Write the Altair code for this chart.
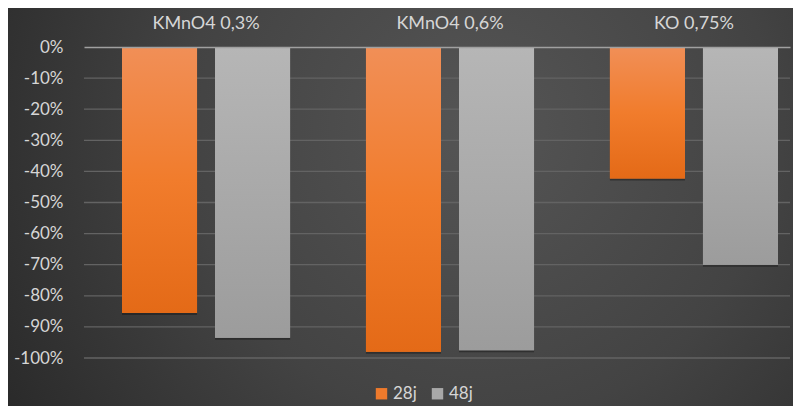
import altair as alt
import pandas as pd

categories = ["KMnO4 0,3%", "KMnO4 0,6%", "KO 0,75%"]
series = ["28j", "48j"]
values_28j = [-0.855, -0.98, -0.423]
values_48j = [-0.935, -0.975, -0.70]
y_ticks = [0, -0.1, -0.2, -0.3, -0.4, -0.5, -0.6, -0.7, -0.8, -0.9, -1.0]

rows = []
for c, a, b in zip(categories, values_28j, values_48j):
    rows.append({"cat": c, "serie": "28j", "val": a})
    rows.append({"cat": c, "serie": "48j", "val": b})
df = pd.DataFrame(rows)
grid_df = pd.DataFrame({"val": y_ticks[1:]})

W, H = 706, 311
FONT = "Lato"
TXT = "#d6d6d6"

x_enc = alt.X("cat:N", sort=categories,
              scale=alt.Scale(paddingInner=0.311, paddingOuter=0.1025, align=0.76),
              axis=alt.Axis(orient="top", title=None, ticks=False, labelAngle=0,
                            labelPadding=15, labelFontSize=18, labelColor=TXT,
                            labelFont=FONT, domainColor="#a0a0a0", domainWidth=1.3,
                            grid=False, zindex=1))
xo_enc = alt.XOffset("serie:N", sort=series,
                     scale=alt.Scale(paddingInner=0.1935, paddingOuter=0))
y_scale = alt.Scale(domain=[-1.0, 0], nice=False)
y_enc = alt.Y("val:Q", scale=y_scale,
              axis=alt.Axis(values=y_ticks, title=None, ticks=False, domain=False,
                            labelExpr="round(datum.value*100) + '%'",
                            labelPadding=21, labelFontSize=17, labelColor=TXT,
                            labelFont=FONT, grid=False, zindex=1))

bg = alt.Chart(pd.DataFrame({"k": [0]})).mark_rect(
    fill=alt.Gradient(gradient="radial", x1=0.6, y1=0.4, r1=0.0,
                      x2=0.6, y2=0.4, r2=0.75,
                      stops=[alt.GradientStop(color="#555555", offset=0),
                             alt.GradientStop(color="#434343", offset=0.5),
                             alt.GradientStop(color="#262626", offset=1)])
).encode(x=alt.value(-76), x2=alt.value(W + 3), y=alt.value(-39), y2=alt.value(H + 48))

grid = alt.Chart(grid_df).mark_rule(color="#636363", strokeWidth=1.3).encode(y=y_enc)

shadow = alt.Chart(df).mark_bar(color="#151515", opacity=0.45, xOffset=2, yOffset=2).encode(
    x=x_enc, xOffset=xo_enc, y=y_enc)

base = alt.Chart(df).mark_bar().encode(
    x=x_enc, xOffset=xo_enc, y=y_enc,
    color=alt.Color("serie:N", sort=series,
                    scale=alt.Scale(domain=series, range=["#EE7A2C", "#A8A8A8"]),
                    legend=alt.Legend(orient="none", legendX=289, legendY=H + 27,
                                      title=None, direction="horizontal",
                                      symbolType="square", symbolSize=130,
                                      symbolStrokeWidth=0, labelFontSize=17,
                                      labelColor=TXT, labelFont=FONT,
                                      columnPadding=12, labelOffset=3)))

grad_or = alt.Gradient(gradient="linear", x1=0, y1=0, x2=0, y2=1,
                       stops=[alt.GradientStop(color="#F18F57", offset=0),
                              alt.GradientStop(color="#F17C2C", offset=0.5),
                              alt.GradientStop(color="#E46A17", offset=1)])
grad_gr = alt.Gradient(gradient="linear", x1=0, y1=0, x2=0, y2=1,
                       stops=[alt.GradientStop(color="#B6B6B6", offset=0),
                              alt.GradientStop(color="#9C9C9C", offset=1)])

over_or = alt.Chart(df).transform_filter(alt.datum.serie == "28j").mark_bar(
    fill=grad_or).encode(x=x_enc, xOffset=xo_enc, y=y_enc)
over_gr = alt.Chart(df).transform_filter(alt.datum.serie == "48j").mark_bar(
    fill=grad_gr).encode(x=x_enc, xOffset=xo_enc, y=y_enc)

chart = alt.layer(bg, grid, shadow, base, over_or, over_gr).properties(
    width=W, height=H, padding=0
).configure(background="#2b2b2b").configure_view(stroke=None)

chart.save("out.html", embed_options={"renderer": "svg", "actions": False})
